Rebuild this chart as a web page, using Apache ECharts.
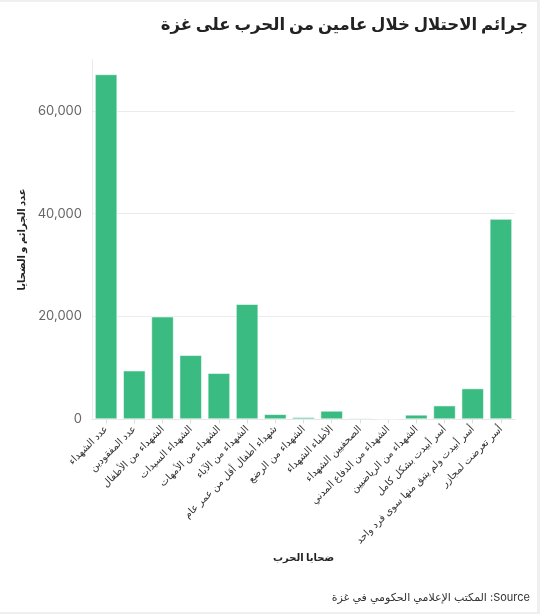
<!DOCTYPE html>
<html>
<head>
<meta charset="utf-8">
<script src="https://cdn.jsdelivr.net/npm/echarts@6/dist/echarts.min.js"></script>
<style>
  html, body { margin: 0; padding: 0; background: #efefef; }
  #chart { position: absolute; left: 0; top: 2px; width: 537px; height: 610px; background: #ffffff; }
</style>
</head>
<body>
<div id="chart"></div>
<script>
const titleText = 'جرائم الاحتلال خلال عامين من الحرب على غزة';
const xAxisName = 'ضحايا الحرب';
const yAxisName = 'عدد الجرائم و الضحايا';
const sourceText = '\u202BSource: المكتب الإعلامي الحكومي في غزة\u202C';

const categories = [
  'عدد الشهداء',
  'عدد المفقودين',
  'الشهداء من الأطفال',
  'الشهداء السيدات',
  'الشهداء من الأمهات',
  'الشهداء من الآباء',
  'شهداء أطفال أقل من عمر عام',
  'الشهداء من الرضع',
  'الأطباء الشهداء',
  'الصحفيين الشهداء',
  'الشهداء من الدفاع المدني',
  'الشهداء من الرياضيين',
  'أسر أبيدت بشكل كامل',
  'أسر أبيدت ولم يتبق منها سوى فرد واحد',
  'أسر تعرضت لمجازر'
];
const values = [67139, 9500, 20000, 12500, 9000, 22426, 1015, 450, 1670, 254, 140, 900, 2700, 6020, 39000];
const yTicks = [0, 20000, 40000, 60000];

const fontFamily = "Inter, 'DejaVu Sans', sans-serif";
const chart = echarts.init(document.getElementById('chart'), null, { renderer: 'canvas' });
chart.setOption({
  animation: false,
  title: {
    text: titleText,
    right: 9,
    top: 15,
    padding: 0,
    textStyle: { fontSize: 16.5, fontWeight: 'bold', color: '#222', fontFamily: fontFamily }
  },
  graphic: [{
    type: 'text',
    right: 7,
    top: 590,
    style: { text: sourceText, fontSize: 11, fill: '#333', fontFamily: fontFamily }
  }],
  grid: { left: 92, right: 22, top: 57.5, bottom: 192.7, containLabel: false },
  xAxis: {
    type: 'category',
    data: categories,
    name: xAxisName,
    nameLocation: 'middle',
    nameGap: 133,
    nameTextStyle: { fontSize: 10, fontWeight: 'bold', color: '#222', fontFamily: fontFamily },
    axisLine: { show: true, lineStyle: { color: '#e6e6e6' } },
    axisTick: { show: true, alignWithLabel: true, length: 4, lineStyle: { color: '#dcdcdc' } },
    axisLabel: { rotate: 45, interval: 0, fontSize: 10, color: '#333', margin: 8, fontFamily: fontFamily },
    splitLine: { show: false }
  },
  yAxis: {
    type: 'value',
    min: 0,
    max: 70000,
    interval: 20000,
    name: yAxisName,
    nameLocation: 'middle',
    nameGap: 64,
    nameTextStyle: { fontSize: 10, fontWeight: 'bold', color: '#222', fontFamily: fontFamily },
    axisLine: { show: true, lineStyle: { color: '#ebebeb' } },
    axisTick: { show: false },
    axisLabel: {
      fontSize: 13, color: '#666', margin: 10, fontFamily: fontFamily,
      showMaxLabel: false,
      formatter: function (v) { return yTicks.indexOf(v) >= 0 ? v.toLocaleString('en-US') : ''; }
    },
    splitLine: { show: true, showMaxLine: false, lineStyle: { color: '#ececec' } }
  },
  series: [{
    type: 'bar',
    data: values,
    barCategoryGap: '20%',
    itemStyle: { color: '#39bb82', borderColor: 'rgba(255,255,255,0.55)', borderWidth: 1 }
  }]
});
</script>
</body>
</html>
